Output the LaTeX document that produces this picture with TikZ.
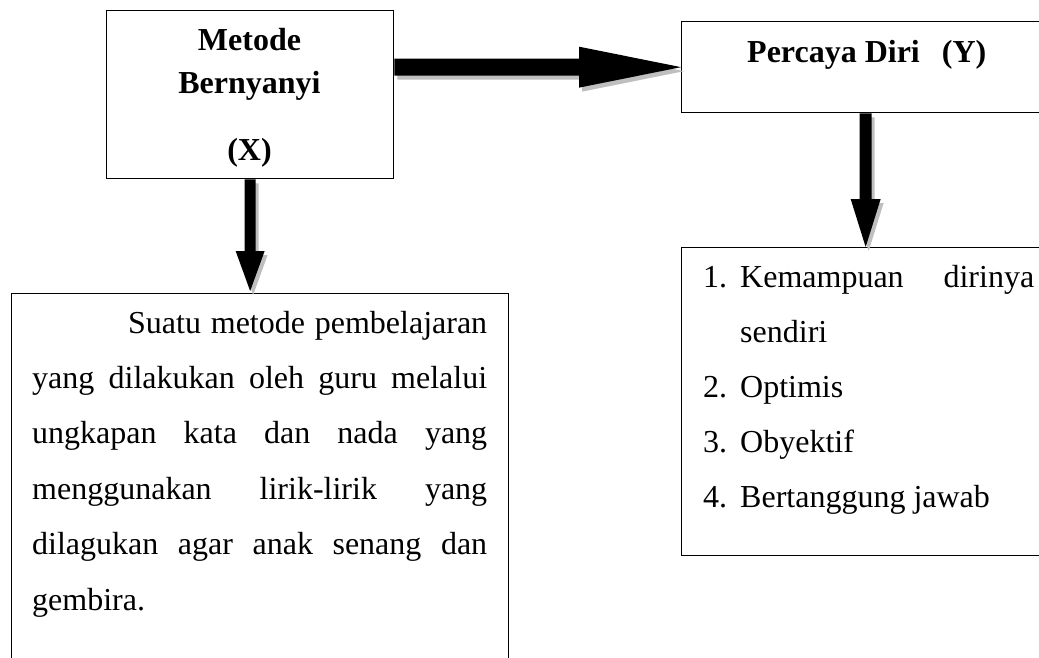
\documentclass[tikz,border=0pt]{standalone}
\usepackage{fontspec}
\setmainfont{Liberation Serif}
\usetikzlibrary{calc}
\newcommand{\fatHpath}[5]{($(#1)+(0,-#3)$) -- ($(#2)+(-#4,-#3)$) -- ($(#2)+(-#4,-#5)$) -- (#2) -- ($(#2)+(-#4,#5)$) -- ($(#2)+(-#4,#3)$) -- ($(#1)+(0,#3)$) -- cycle}
\newcommand{\fatVpath}[5]{($(#1)+(-#3,0)$) -- ($(#2)+(-#3,-#4)$) -- ($(#2)+(-#5,-#4)$) -- (#2) -- ($(#2)+(#5,-#4)$) -- ($(#2)+(#3,-#4)$) -- ($(#1)+(#3,0)$) -- cycle}
\tikzset{
  box/.style={draw=black, line width=1.3pt, fill=white, inner sep=0pt, anchor=north west},
  txt/.style={inner sep=0pt, anchor=base west, font=\fontsize{32}{38}\selectfont},
  btxt/.style={inner sep=0pt, anchor=base, font=\fontsize{32}{38}\selectfont\bfseries},
  shadowfill/.style={fill=black!25, transform canvas={shift={(3pt,-4pt)}}},
  arrowfill/.style={fill=black}
}
\begin{document}
\begin{tikzpicture}[x=1pt,y=-1pt]
\useasboundingbox (0,0) rectangle (1039,657);
\fill[white] (0,0) rectangle (1039,657);
\clip (0,0) rectangle (1039,657);
% boxes
\node[box, minimum width=287pt, minimum height=168pt] (X) at (106,10) {};
\node[box, minimum width=368pt, minimum height=91pt] (Y) at (681,21) {};
\node[box, minimum width=497pt, minimum height=420pt] (L) at (11,293) {};
\node[box, minimum width=368pt, minimum height=308pt] (R) at (681,247) {};
% connector end points
\coordinate (h1) at (X.east |- Y.west);
\coordinate (h2) at (Y.west);
\coordinate (v1) at (X.south);
\coordinate (v2) at ($(X.south |- L.north)+(0,-2)$);
\coordinate (w1) at (Y.south);
\coordinate (w2) at (Y.south |- R.north);
% shadows
\fill[shadowfill] \fatHpath{h1}{h2}{8.5}{102}{20.5};
\fill[shadowfill] \fatVpath{v1}{v2}{5.5}{40}{14.5};
\fill[shadowfill] \fatVpath{w1}{w2}{6}{48}{15};
% arrows
\fill[arrowfill] \fatHpath{h1}{h2}{8.5}{102}{20.5};
\fill[arrowfill] \fatVpath{v1}{v2}{5.5}{40}{14.5};
\fill[arrowfill] \fatVpath{w1}{w2}{6}{48}{15};
% box X text
\node[btxt] (x1) at (249.5,50) {Metode};
\node[btxt] (x2) at (249.5,93) {Bernyanyi};
\node[btxt] (x3) at (249.5,160) {(X)};
% box Y text
\node[txt, font=\fontsize{32}{38}\selectfont\bfseries] (y1) at (747,62) {Percaya Diri\hspace{22pt}(Y)};
% left paragraph
\node[txt] (l1) at (128,333) {\makebox[359pt][s]{Suatu metode pembelajaran}};
\node[txt] (l2) at (32,388.4) {\makebox[455pt][s]{yang dilakukan oleh guru melalui}};
\node[txt] (l3) at (32,443.8) {\makebox[455pt][s]{ungkapan kata dan nada yang}};
\node[txt] (l4) at (32,499.2) {\makebox[455pt][s]{menggunakan lirik-lirik yang}};
\node[txt] (l5) at (32,554.6) {\makebox[455pt][s]{dilagukan agar anak senang dan}};
\node[txt] (l6) at (32,610) {gembira.};
% right list
\node[txt] (n1) at (703,287) {1.};
\node[txt] (r1) at (740,287) {\makebox[294pt][s]{Kemampuan dirinya}};
\node[txt] (r1b) at (740,342) {sendiri};
\node[txt] (n2) at (703,397) {2.};
\node[txt] (r2) at (740,397) {Optimis};
\node[txt] (n3) at (703,452) {3.};
\node[txt] (r3) at (740,452) {Obyektif};
\node[txt] (n4) at (703,507) {4.};
\node[txt] (r4) at (740,507) {Bertanggung jawab};
\end{tikzpicture}
\end{document}
